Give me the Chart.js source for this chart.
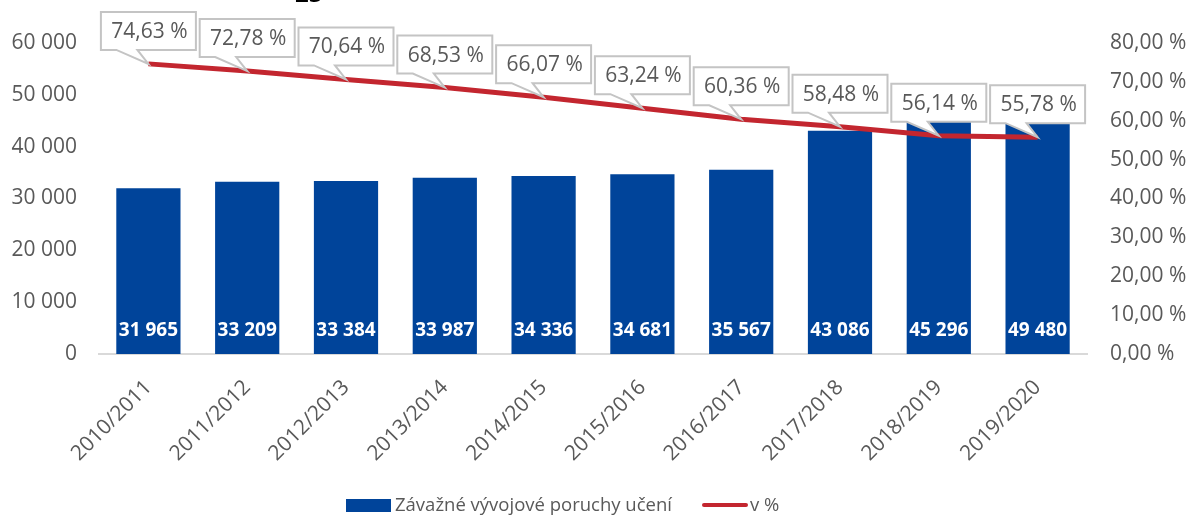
<!DOCTYPE html>
<html>
<head>
<meta charset="utf-8">
<script src="https://cdn.jsdelivr.net/npm/chart.js@4/dist/chart.umd.min.js"></script>
<style>
  html, body { margin: 0; padding: 0; background: #fff; overflow: hidden; }
  #wrap { position: relative; width: 1192px; height: 516px; font-family: "Open Sans", sans-serif; }
  canvas { position: absolute; left: 0; top: 0; }
  #title { position: absolute; left: 295px; top: -19px; font-size: 24px; font-weight: bold; line-height: 1; color: #000; }
  .lg { position: absolute; font-size: 18.5px; color: #595959; line-height: 1; white-space: nowrap; }
</style>
</head>
<body>
<div id="wrap">
  <canvas id="c" width="1192" height="516"></canvas>
  <div id="title">25</div>
  <div style="position:absolute;left:346px;top:499px;width:45px;height:13px;background:#00449A;"></div>
  <div class="lg" style="left:395px;top:495px;">Závažné vývojové poruchy učení</div>
  <div style="position:absolute;left:702px;top:503px;width:46px;height:4px;border-radius:2px;background:#C3262F;"></div>
  <div class="lg" style="left:750px;top:495px;">v %</div>
</div>
<script>
const categories = ['2010/2011','2011/2012','2012/2013','2013/2014','2014/2015','2015/2016','2016/2017','2017/2018','2018/2019','2019/2020'];
const counts = [31965, 33209, 33384, 33987, 34336, 34681, 35567, 43086, 45296, 49480];
const percents = [74.63, 72.78, 70.64, 68.53, 66.07, 63.24, 60.36, 58.48, 56.14, 55.78];
const seriesNames = ['Závažné vývojové poruchy učení', 'v %'];

const FONT = '"Open Sans", sans-serif';
const GRAY = '#595959';

function fmtInt(n) { return String(n).replace(/\B(?=(\d{3})+(?!\d))/g, ' '); }
function fmtPct(v) { return v.toFixed(2).replace('.', ',') + ' %'; }

const labelsPlugin = {
  id: 'labelsPlugin',
  afterDatasetsDraw(chart) {
    const ctx = chart.ctx;
    ctx.save();
    // bar value labels
    const barMeta = chart.getDatasetMeta(0);
    ctx.font = 'bold 19px ' + FONT;
    ctx.fillStyle = '#ffffff';
    ctx.textAlign = 'center';
    ctx.textBaseline = 'middle';
    barMeta.data.forEach((el, i) => {
      ctx.fillText(fmtInt(counts[i]), el.x, el.base - 23);
    });
    // callouts for the line
    const lineMeta = chart.getDatasetMeta(1);
    ctx.font = '21px ' + FONT;
    lineMeta.data.forEach((p, i) => {
      const cx = p.x, py = p.y;
      const w = 95, h = 38;
      const bottom = py - 14, top = bottom - h, left = cx - w / 2;
      ctx.beginPath();
      ctx.moveTo(left, top);
      ctx.lineTo(left + w, top);
      ctx.lineTo(left + w, bottom);
      ctx.lineTo(cx - 11, bottom);
      ctx.lineTo(cx, py);
      ctx.lineTo(cx - 32, bottom);
      ctx.lineTo(left, bottom);
      ctx.closePath();
      ctx.fillStyle = '#ffffff';
      ctx.fill();
      ctx.lineWidth = 2;
      ctx.strokeStyle = '#C4C4C4';
      ctx.stroke();
      ctx.fillStyle = GRAY;
      ctx.fillText(fmtPct(percents[i]), cx + 1, top + h / 2 + 1);
    });
    ctx.restore();
  }
};

new Chart(document.getElementById('c'), {
  type: 'bar',
  data: {
    labels: categories,
    datasets: [
      {
        type: 'bar',
        label: seriesNames[0],
        data: counts,
        backgroundColor: '#00449A',
        yAxisID: 'y',
        categoryPercentage: 1.0,
        barPercentage: 0.65,
        order: 2
      },
      {
        type: 'line',
        label: seriesNames[1],
        data: percents,
        borderColor: '#C3262F',
        backgroundColor: '#C3262F',
        borderWidth: 5,
        pointRadius: 0,
        tension: 0,
        fill: false,
        yAxisID: 'y1',
        order: 1
      }
    ]
  },
  options: {
    responsive: false,
    animation: false,
    devicePixelRatio: 1,
    layout: { padding: { top: 43, left: 0, right: 0, bottom: 0 } },
    plugins: {
      legend: { display: false },
      tooltip: { enabled: false },
      title: { display: false }
    },
    scales: {
      x: {
        grid: { display: false, drawTicks: false },
        border: { display: true, color: '#D9D9D9', width: 2 },
        ticks: {
          color: GRAY,
          font: { family: FONT, size: 21 },
          minRotation: 45,
          maxRotation: 45,
          autoSkip: false,
          padding: 21
        },
        afterFit(s) { s.height = 516 - 354; }
      },
      y: {
        position: 'left',
        min: 0,
        max: 60000,
        grid: { display: false, drawTicks: false },
        border: { display: false },
        ticks: {
          stepSize: 10000,
          color: GRAY,
          font: { family: FONT, size: 21 },
          padding: 22,
          callback: (v) => fmtInt(v)
        },
        afterFit(s) { s.width = 99; }
      },
      y1: {
        position: 'right',
        min: 0,
        max: 80,
        grid: { display: false, drawTicks: false },
        border: { display: false },
        ticks: {
          stepSize: 10,
          color: GRAY,
          font: { family: FONT, size: 21 },
          padding: 23,
          callback: (v) => fmtPct(v)
        },
        afterFit(s) { s.width = 1192 - 1087; }
      }
    }
  },
  plugins: [labelsPlugin]
});
</script>
</body>
</html>
